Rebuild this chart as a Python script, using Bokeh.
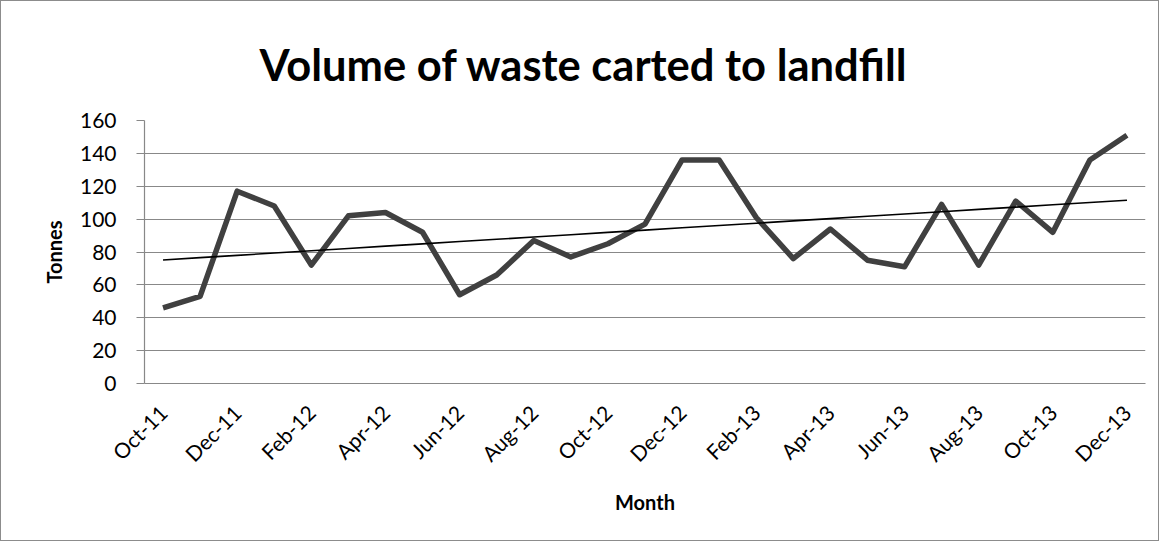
import numpy as np
from bokeh.plotting import figure
from bokeh.models import Range1d, FixedTicker, Title
from bokeh.embed import file_html
from bokeh.resources import INLINE

months = ["Oct-11", "Nov-11", "Dec-11", "Jan-12", "Feb-12", "Mar-12", "Apr-12",
          "May-12", "Jun-12", "Jul-12", "Aug-12", "Sep-12", "Oct-12", "Nov-12",
          "Dec-12", "Jan-13", "Feb-13", "Mar-13", "Apr-13", "May-13", "Jun-13",
          "Jul-13", "Aug-13", "Sep-13", "Oct-13", "Nov-13", "Dec-13"]
tonnes = [46, 53, 117, 108, 72, 102, 104, 92, 54, 66, 87, 77, 85, 97,
          136, 136, 101, 76, 94, 75, 71, 109, 72, 111, 92, 136, 151]
y_ticks = [0, 20, 40, 60, 80, 100, 120, 140, 160]

FONT = "Lato"
GRID = "#888888"

idx = list(range(len(months)))
slope, intercept = np.polyfit(idx, tonnes, 1)
trend = [slope * i + intercept for i in idx]

p = figure(width=1159, height=541, output_backend="svg", toolbar_location=None,
           x_range=Range1d(-0.5, len(months) - 0.5), y_range=Range1d(0, 160),
           min_border_left=143, min_border_right=15, min_border_top=119,
           min_border_bottom=159, title=None)
p.styles = {"border": "1px solid #8c8c8c"}
p.background_fill_color = "white"
p.border_fill_color = "white"
p.outline_line_color = None

p.line(idx, tonnes, line_width=5.5, line_color="#404040", line_join="round")
p.line(idx, trend, line_width=1.6, line_color="black")

# axes
p.xgrid.grid_line_color = None
p.ygrid.ticker = FixedTicker(ticks=y_ticks)
p.ygrid.grid_line_color = GRID
p.ygrid.grid_line_width = 1.2

ya = p.yaxis[0]
ya.ticker = FixedTicker(ticks=y_ticks)
ya.axis_line_color = GRID
ya.axis_line_width = 1.2
ya.major_tick_line_color = GRID
ya.major_tick_line_width = 1.2
ya.major_tick_out = 8
ya.major_tick_in = 0
ya.minor_tick_line_color = None
ya.major_label_text_font = FONT
ya.major_label_text_font_size = "21px"
ya.major_label_text_color = "black"
ya.major_label_standoff = 20
ya.axis_label = "Tonnes"
ya.axis_label_text_font = FONT
ya.axis_label_text_font_style = "bold"
ya.axis_label_text_font_size = "20px"
ya.axis_label_text_color = "black"
ya.axis_label_standoff = 11

xa = p.xaxis[0]
xa.ticker = FixedTicker(ticks=idx[::2])
xa.major_label_overrides = {i: months[i] for i in idx[::2]}
xa.axis_line_color = GRID
xa.axis_line_width = 1.2
xa.major_tick_line_color = None
xa.minor_tick_line_color = None
xa.major_label_orientation = np.pi / 4
xa.major_label_text_font = FONT
xa.major_label_text_font_size = "21px"
xa.major_label_text_color = "black"
xa.major_label_standoff = 19
xa.axis_label = "Month"
xa.axis_label_text_font = FONT
xa.axis_label_text_font_style = "bold"
xa.axis_label_text_font_size = "20px"
xa.axis_label_text_color = "black"
xa.axis_label_standoff = 12

title = Title(text="Volume of waste carted to landfill", align="left", offset=115,
              text_font=FONT, text_font_style="bold", text_font_size="43.5px",
              text_color="black", standoff=62)
p.add_layout(title, "above")

open("out.html", "w").write(file_html(p, INLINE))
